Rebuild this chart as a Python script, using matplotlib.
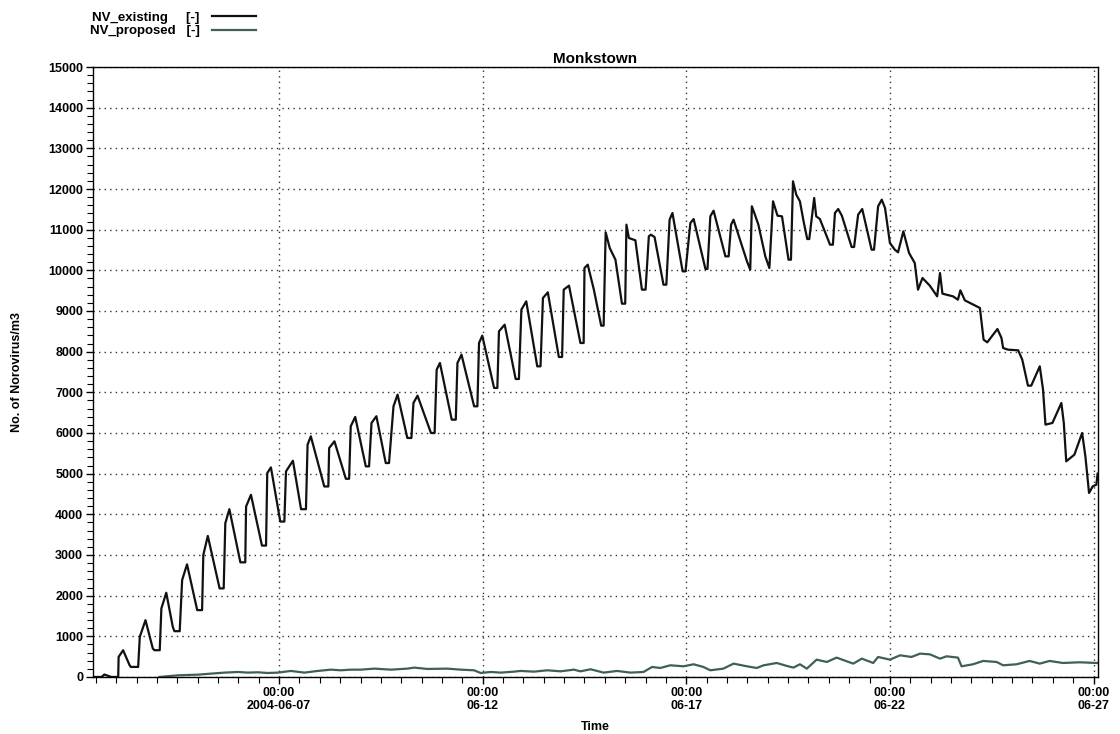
import matplotlib
matplotlib.use('Agg')
import matplotlib.pyplot as plt
import matplotlib.dates as mdates
import matplotlib.ticker as ticker
from datetime import datetime
import numpy as np

plt.rcParams['font.family'] = ['Liberation Sans', 'DejaVu Sans']
plt.rcParams['font.weight'] = 'bold'

# time in fractional day of June 2004, values in No. of Norovirus/m3
existingDay = [2.43, 2.64, 2.71, 2.88, 3.05, 3.06, 3.17, 3.33, 3.36, 3.54, 3.58, 3.72, 3.90, 3.94,
               4.07, 4.11, 4.23, 4.39, 4.43, 4.56, 4.62, 4.74, 4.99, 5.11, 5.14, 5.25, 5.54, 5.64,
               5.68, 5.78, 6.05, 6.17, 6.19, 6.31, 6.58, 6.68, 6.71, 6.80, 7.03, 7.13, 7.17, 7.34,
               7.54, 7.66, 7.70, 7.78, 8.11, 8.21, 8.23, 8.36, 8.64, 8.72, 8.76, 8.87, 9.13, 9.21,
               9.27, 9.39, 9.62, 9.70, 9.81, 9.91, 10.15, 10.25, 10.30, 10.40, 10.73, 10.82, 10.87,
               10.95, 11.24, 11.34, 11.38, 11.48, 11.79, 11.87, 11.91, 11.99, 12.28, 12.36, 12.40,
               12.54, 12.81, 12.89, 12.95, 13.07, 13.34, 13.42, 13.48, 13.60, 13.87, 13.95, 13.99,
               14.12, 14.40, 14.48, 14.50, 14.58, 14.73, 14.91, 14.97, 15.02, 15.12, 15.26, 15.42,
               15.50, 15.53, 15.59, 15.75, 15.91, 16.00, 16.08, 16.13, 16.22, 16.44, 16.51, 16.59,
               16.66, 16.91, 16.98, 17.10, 17.18, 17.47, 17.52, 17.59, 17.67, 17.96, 18.04, 18.10,
               18.16, 18.37, 18.49, 18.57, 18.61, 18.67, 18.77, 18.94, 19.04, 19.13, 19.24, 19.35,
               19.51, 19.57, 19.62, 19.70, 19.79, 19.88, 19.97, 20.02, 20.14, 20.19, 20.28, 20.53,
               20.60, 20.65, 20.73, 20.82, 21.06, 21.12, 21.22, 21.32, 21.55, 21.61, 21.71, 21.80,
               21.88, 22.00, 22.12, 22.20, 22.33, 22.47, 22.61, 22.69, 22.80, 22.98, 23.16, 23.23,
               23.29, 23.55, 23.67, 23.73, 23.84, 24.21, 24.30, 24.39, 24.64, 24.74, 24.78, 24.90,
               25.15, 25.25, 25.39, 25.47, 25.68, 25.76, 25.82, 25.99, 26.21, 26.27, 26.33, 26.53,
               26.72, 26.80, 26.89, 26.98, 27.07, 27.10]
existingVal = [0, 0, 60, 0, 0, 493, 658, 288, 247, 247, 986, 1397, 699, 658,
               658, 1685, 2071, 1233, 1126, 1126, 2384, 2770, 1644, 1644, 3000, 3469, 2178, 2178,
               3781, 4126, 2819, 2819, 4192, 4480, 3231, 3231, 5014, 5154, 3822, 3822, 5055, 5318,
               4126, 4126, 5713, 5918, 4685, 4685, 5631, 5795, 4874, 4874, 6165, 6395, 5179, 5179,
               6247, 6412, 5261, 5261, 6656, 6943, 5877, 5877, 6738, 6918, 6000, 6000, 7557,
               7721, 6328, 6328, 7721, 7926, 6656, 6656, 8213, 8393, 7107, 7107, 8500,
               8664, 7328, 7328, 9033, 9238, 7639, 7639, 9320, 9459, 7869, 7869, 9525,
               9623, 8213, 8213, 10057, 10139, 9525, 8639, 8639, 10934, 10549, 10262, 9180,
               9180, 11123, 10795, 10738, 9525, 9525, 10836, 10877, 10820, 9647, 9647, 11246,
               11410, 9975, 9975, 11164, 11262, 10033, 10033, 11328, 11467, 10344, 10344, 11123,
               11246, 10590, 10221, 10016, 11574, 11410, 11123, 10344, 10057, 11697, 11344, 11328,
               10262, 10262, 12189, 11861, 11697, 11205, 10770, 10770, 11779, 11328, 11262, 10631,
               10631, 11410, 11508, 11344, 10574, 10574, 11369, 11508, 10508, 10508, 11574, 11738,
               11533, 10672, 10508, 10443, 10959, 10426, 10180, 9524, 9811, 9623, 9360, 9934,
               9426, 9360, 9278, 9508, 9262, 9074, 8295, 8229, 8557, 8336, 8090, 8049,
               8033, 7803, 7164, 7164, 7639, 7066, 6205, 6246, 6738, 6246, 5303, 5467,
               6000, 5426, 4524, 4688, 4729, 5000]

proposedDay = [4.06, 4.52, 5.01, 5.33, 5.66, 5.99, 6.23, 6.48, 6.72, 6.97, 7.29, 7.62, 7.95, 8.27,
               8.52, 8.76, 9.01, 9.34, 9.75, 10.15, 10.32, 10.64, 11.13, 11.46, 11.79, 11.95, 12.20,
               12.44, 12.77, 12.93, 13.26, 13.59, 13.91, 14.24, 14.40, 14.65, 14.97, 15.30, 15.63,
               15.95, 16.16, 16.36, 16.61, 16.93, 17.18, 17.42, 17.59, 17.91, 18.16, 18.49, 18.73,
               18.90, 19.22, 19.47, 19.63, 19.79, 19.96, 20.20, 20.45, 20.69, 21.10, 21.31, 21.59,
               21.71, 22.00, 22.25, 22.53, 22.74, 22.98, 23.23, 23.39, 23.67, 23.76, 24.04, 24.29,
               24.62, 24.78, 25.11, 25.43, 25.68, 25.92, 26.25, 26.66, 27.07, 27.10]
proposedVal = [0, 41, 57, 82, 107, 123, 107, 115, 98, 107, 148, 107, 148, 180,
               164, 180, 180, 205, 180, 205, 230, 197, 205, 180, 164, 98, 123,
               107, 131, 148, 131, 164, 139, 180, 139, 189, 107, 148, 107,
               123, 246, 221, 287, 262, 312, 246, 164, 205, 328, 262, 221,
               287, 344, 271, 230, 312, 205, 426, 369, 476, 328, 451, 344,
               492, 426, 533, 492, 574, 557, 451, 508, 476, 262, 312, 394,
               369, 287, 312, 394, 328, 394, 344, 361, 344, 344]

seriesNames = ['NV_existing     [-]', 'NV_proposed   [-]']
seriesColors = ['#111111', '#3f5f5a']

base = mdates.date2num(datetime(2004, 6, 1))
def toDates(days):
    return [base + d - 1 for d in days]

fig = plt.figure(figsize=(11.2, 7.34), dpi=100)
ax = fig.add_axes([0.083, 0.0777, 0.897, 0.831])

l1, = ax.plot(toDates(existingDay), existingVal, color=seriesColors[0], linewidth=1.6,
              solid_joinstyle='round', label=seriesNames[0])
l2, = ax.plot(toDates(proposedDay), proposedVal, color=seriesColors[1], linewidth=1.6,
              solid_joinstyle='round', label=seriesNames[1])

ax.set_xlim(base + 2.43 - 1, base + 27.10 - 1)
ax.set_ylim(0, 15000)

ax.xaxis.set_major_locator(mdates.DayLocator(bymonthday=[7, 12, 17, 22, 27]))
ax.xaxis.set_minor_locator(mdates.HourLocator(byhour=[0, 12]))

def dateFmt(x, pos):
    d = mdates.num2date(x)
    if d.day == 7:
        return '00:00\n' + d.strftime('%Y-%m-%d')
    return '00:00\n' + d.strftime('%m-%d')
ax.xaxis.set_major_formatter(ticker.FuncFormatter(dateFmt))

ax.yaxis.set_major_locator(ticker.MultipleLocator(1000))
ax.yaxis.set_minor_locator(ticker.MultipleLocator(200))

ax.tick_params(axis='both', which='major', direction='out', length=5, width=1, labelsize=9, pad=2)
ax.tick_params(axis='both', which='minor', direction='out', length=4, width=0.8)
for lab in ax.get_xticklabels() + ax.get_yticklabels():
    lab.set_fontweight('bold')

ax.grid(True, which='major', linestyle=(0, (1, 3)), color='#333333', linewidth=1)

for s in ax.spines.values():
    s.set_linewidth(1)
    s.set_color('black')

ax.set_title('Monkstown', fontsize=11, fontweight='bold', pad=3)
ax.set_ylabel('No. of Norovirus/m3', fontsize=9, fontweight='bold', labelpad=18)
ax.set_xlabel('Time', fontsize=9, fontweight='bold', labelpad=6)

leg = fig.legend(handles=[l1, l2], loc='upper left', bbox_to_anchor=(0.072, 0.997),
                 frameon=False, markerfirst=False, fontsize=9.5, handlelength=3.4,
                 labelspacing=0.1, handletextpad=0.9, borderpad=0.2)
for t in leg.get_texts():
    t.set_fontweight('bold')

fig.savefig('out.png', dpi=100)
